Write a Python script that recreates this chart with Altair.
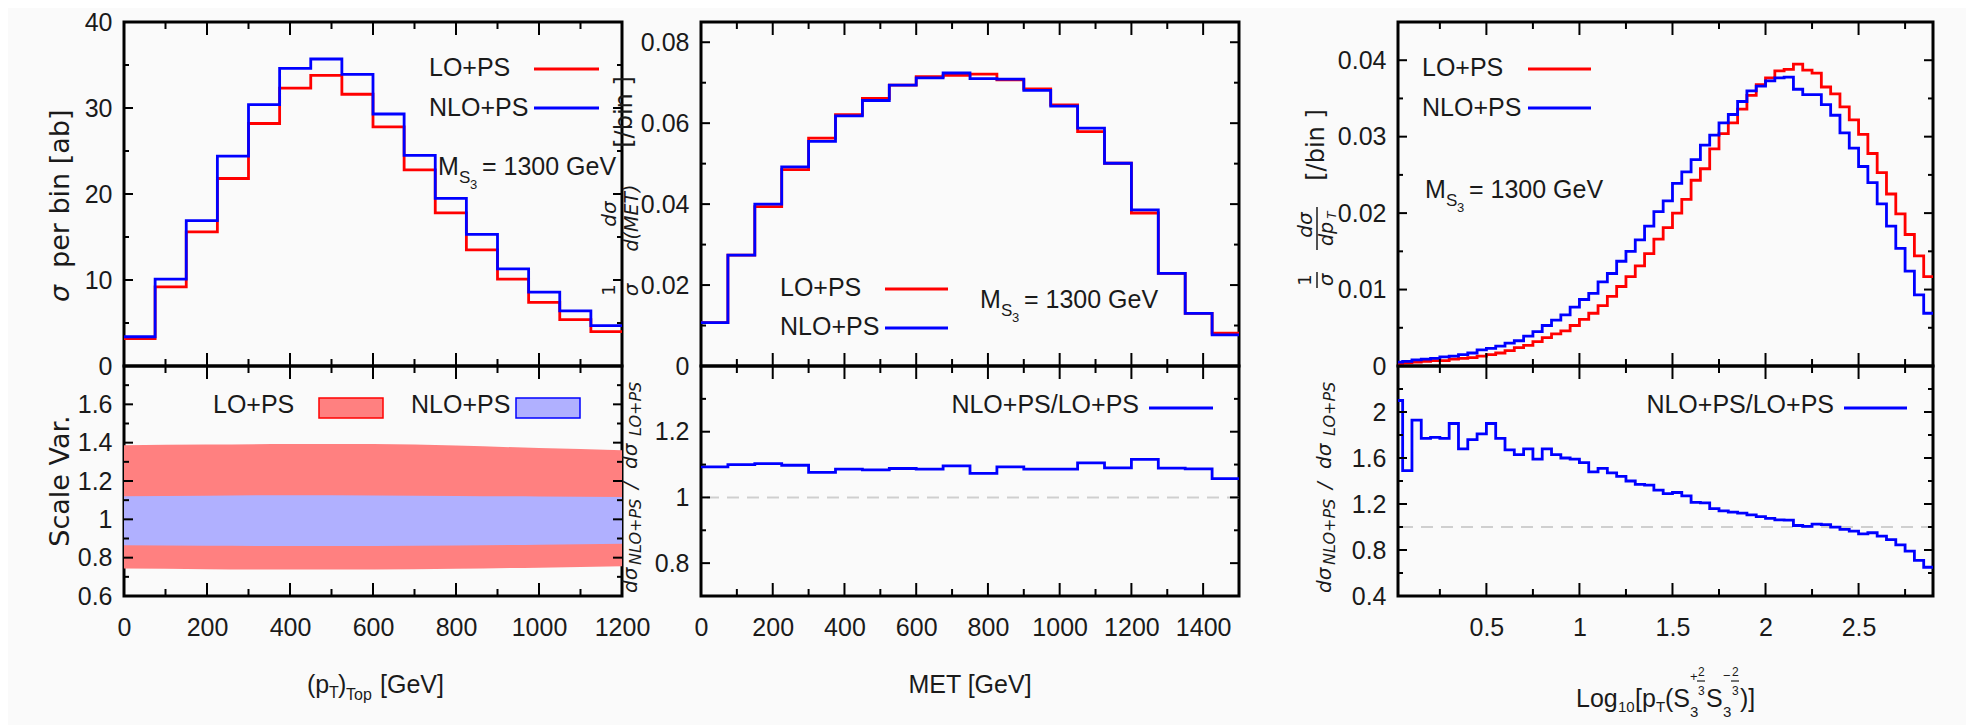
import altair as alt
import pandas as pd

RED = "#ff0000"
BLUE = "#0000ff"
RED_BAND = "#ff8080"
BLUE_BAND = "#b0b0ff"
TXT = "#1a1a1a"
LIB = "Liberation Sans, Arial, sans-serif"
SANS = "DejaVu Sans, sans-serif"
FS = 25

# ---------------- data ----------------
pt_edges = [0, 75, 150, 225, 300, 375, 450, 525, 600, 675, 750, 825, 900, 975, 1050, 1125, 1200]
pt_lo = [3.2, 9.2, 15.6, 21.8, 28.2, 32.3, 33.8, 31.6, 27.8, 22.8, 17.8, 13.5, 10.1, 7.4, 5.4, 4.0]
pt_nlo = [3.4, 10.1, 16.9, 24.4, 30.4, 34.6, 35.7, 33.9, 29.3, 24.5, 19.5, 15.3, 11.3, 8.6, 6.4, 4.7]

band_x = [0, 200, 400, 600, 800, 1000, 1200]
lo_up = [1.386, 1.390, 1.393, 1.393, 1.385, 1.372, 1.361]
lo_dn = [0.743, 0.740, 0.738, 0.738, 0.742, 0.748, 0.755]
nlo_up = [1.121, 1.123, 1.126, 1.125, 1.122, 1.119, 1.117]
nlo_dn = [0.865, 0.862, 0.861, 0.861, 0.864, 0.868, 0.872]

met_edges = [0, 75, 150, 225, 300, 375, 450, 525, 600, 675, 750, 825, 900, 975,
             1050, 1125, 1200, 1275, 1350, 1425, 1500]
met_lo = [0.0107, 0.0274, 0.0394, 0.0485, 0.0563, 0.0621, 0.0661, 0.0694, 0.0715, 0.0718,
          0.0721, 0.0707, 0.0685, 0.0645, 0.0579, 0.0501, 0.0378, 0.0229, 0.0130, 0.0081]
met_nlo = [0.0107, 0.0274, 0.0400, 0.0492, 0.0555, 0.0618, 0.0656, 0.0694, 0.0712, 0.0724,
           0.0710, 0.0709, 0.0681, 0.0642, 0.0588, 0.0501, 0.0386, 0.0229, 0.0130, 0.0077]
met_ratio = [1.093, 1.100, 1.103, 1.098, 1.076, 1.086, 1.084, 1.088, 1.086, 1.096,
             1.073, 1.093, 1.086, 1.086, 1.105, 1.090, 1.116, 1.089, 1.087, 1.057]

log_edges = [0.0, 0.05, 0.1, 0.15, 0.2, 0.25, 0.3, 0.35, 0.4, 0.45, 0.5, 0.55, 0.6, 0.65,
             0.7, 0.75, 0.8, 0.85, 0.9, 0.95, 1.0, 1.05, 1.1, 1.15, 1.2, 1.25, 1.3, 1.35,
             1.4, 1.45, 1.5, 1.55, 1.6, 1.65, 1.7, 1.75, 1.8, 1.85, 1.9, 1.95, 2.0, 2.05,
             2.1, 2.15, 2.2, 2.25, 2.3, 2.35, 2.4, 2.45, 2.5, 2.55, 2.6, 2.65, 2.7, 2.75,
             2.8, 2.85, 2.9]
log_lo = [0.0003, 0.0004, 0.0005, 0.0006, 0.0007, 0.0007, 0.0009, 0.0010, 0.0011, 0.0013,
          0.0015, 0.0017, 0.0020, 0.0024, 0.0027, 0.0032, 0.0037, 0.0042, 0.0046, 0.0053,
          0.0061, 0.0069, 0.0079, 0.0091, 0.0104, 0.0117, 0.0131, 0.0147, 0.0166, 0.0181,
          0.0200, 0.0218, 0.0243, 0.0258, 0.0284, 0.0304, 0.0318, 0.0336, 0.0354, 0.0368,
          0.0377, 0.0386, 0.0388, 0.0395, 0.0387, 0.0383, 0.0365, 0.0356, 0.0339, 0.0322,
          0.0303, 0.0278, 0.0253, 0.0225, 0.0199, 0.0172, 0.0144, 0.0117]
log_nlo = [0.0005, 0.0006, 0.0008, 0.0009, 0.0010, 0.0012, 0.0013, 0.0015, 0.0017, 0.0021,
           0.0023, 0.0026, 0.0030, 0.0033, 0.0039, 0.0045, 0.0053, 0.0060, 0.0067, 0.0077,
           0.0087, 0.0095, 0.0110, 0.0121, 0.0137, 0.0150, 0.0165, 0.0183, 0.0202, 0.0216,
           0.0239, 0.0254, 0.0270, 0.0289, 0.0302, 0.0318, 0.0329, 0.0346, 0.0360, 0.0366,
           0.0373, 0.0377, 0.0378, 0.0362, 0.0355, 0.0355, 0.0342, 0.0328, 0.0305, 0.0285,
           0.0261, 0.0240, 0.0212, 0.0183, 0.0154, 0.0124, 0.0093, 0.0069]
log_ratio = [2.10, 1.49, 1.93, 1.77, 1.78, 1.77, 1.90, 1.68, 1.76, 1.81,
             1.90, 1.77, 1.67, 1.63, 1.68, 1.59, 1.68, 1.63, 1.60, 1.59,
             1.56, 1.48, 1.51, 1.47, 1.44, 1.40, 1.37, 1.365, 1.32, 1.29,
             1.30, 1.27, 1.215, 1.21, 1.16, 1.14, 1.13, 1.12, 1.105, 1.09,
             1.075, 1.062, 1.06, 1.013, 1.005, 1.025, 1.02, 0.999, 0.98, 0.965,
             0.94, 0.95, 0.92, 0.89, 0.845, 0.79, 0.71, 0.65]

# axis values / ticks
p1_xlab = [0, 200, 400, 600, 800, 1000, 1200]
p1_xmin = [100, 300, 500, 700, 900, 1100]
p1_ylab_top = [0, 10, 20, 30, 40]
p1_ymin_top = [5, 15, 25, 35]
p1_ylab_bot = [0.6, 0.8, 1, 1.2, 1.4, 1.6]
p1_ymin_bot = [0.7, 0.9, 1.1, 1.3, 1.5, 1.7]
p2_xlab = [0, 200, 400, 600, 800, 1000, 1200, 1400]
p2_xmin = [100, 300, 500, 700, 900, 1100, 1300, 1500]
p2_ylab_top = [0, 0.02, 0.04, 0.06, 0.08]
p2_ymin_top = [0.01, 0.03, 0.05, 0.07]
p2_ylab_bot = [0.8, 1, 1.2]
p2_ymin_bot = [0.9, 1.1, 1.3]
p3_xlab = [0.5, 1, 1.5, 2, 2.5]
p3_xmin = [0.25, 0.75, 1.25, 1.75, 2.25, 2.75]
p3_ylab_top = [0, 0.01, 0.02, 0.03, 0.04]
p3_ymin_top = [0.005, 0.015, 0.025, 0.035]
p3_ylab_bot = [0.4, 0.8, 1.2, 1.6, 2]
p3_ymin_bot = [0.6, 1.0, 1.4, 1.8, 2.2]

W1, W2, W3 = 498, 538, 535
HT, HB = 344, 230

ONE = pd.DataFrame({"k": [0]})


def step_df(edges, vals):
    n = len(vals)
    return pd.DataFrame({"x": list(edges[:n]) + [edges[n]], "y": list(vals) + [vals[-1]]})


def xaxis(values=None):
    if values is None:
        return alt.Axis(labels=False, ticks=False, domain=False, grid=False, title=None)
    return alt.Axis(values=values, format=".6~g", ticks=False, domain=False, grid=False,
                    title=None, labelPadding=19, labelFont=LIB, labelFontSize=FS,
                    labelColor=TXT, labelFlush=False, labelOverlap=False)


def yaxis(values):
    return alt.Axis(values=values, format=".6~g", ticks=False, domain=False, grid=False,
                    title=None, labelPadding=12, labelFont=LIB, labelFontSize=FS,
                    labelColor=TXT, labelFlush=False, labelOverlap=False)


def step_line(edges, vals, color, xs, ys, xa, ya):
    return alt.Chart(step_df(edges, vals)).mark_line(
        interpolate="step-after", color=color, strokeWidth=2.8, clip=True
    ).encode(
        x=alt.X("x:Q", scale=xs, axis=xa),
        y=alt.Y("y:Q", scale=ys, axis=ya),
    )


def ticks(xs, ys, xa, ya, W, H, xmaj, xmin, ymaj, ymin):
    out = []
    for vals, L in ((xmaj, 13), (xmin, 7)):
        d = pd.DataFrame({"x": vals})
        base = alt.Chart(d).mark_rule(color="black", strokeWidth=2)
        out.append(base.encode(x=alt.X("x:Q", scale=xs, axis=xa), y=alt.value(H), y2=alt.value(H - L)))
        out.append(base.encode(x=alt.X("x:Q", scale=xs, axis=xa), y=alt.value(0), y2=alt.value(L)))
    for vals, L in ((ymaj, 9), (ymin, 5)):
        d = pd.DataFrame({"y": vals})
        base = alt.Chart(d).mark_rule(color="black", strokeWidth=2)
        out.append(base.encode(y=alt.Y("y:Q", scale=ys, axis=ya), x=alt.value(0), x2=alt.value(L)))
        out.append(base.encode(y=alt.Y("y:Q", scale=ys, axis=ya), x=alt.value(W), x2=alt.value(W - L)))
    return out


def t(s, x, y, size=FS, font=LIB, style="normal", align="left", baseline="middle", angle=0, color=TXT):
    kw = dict(align=align, baseline=baseline, font=font, fontSize=size, fontStyle=style, color=color, text=s)
    if angle:
        kw["angle"] = angle
    return alt.Chart(ONE).mark_text(**kw).encode(x=alt.value(x), y=alt.value(y))


def hseg(x1, x2, y, color, w=3):
    return alt.Chart(ONE).mark_rule(color=color, strokeWidth=w).encode(
        x=alt.value(x1), x2=alt.value(x2), y=alt.value(y))


def vseg(x, y1, y2, color=TXT, w=1.5):
    return alt.Chart(ONE).mark_rule(color=color, strokeWidth=w).encode(
        x=alt.value(x), y=alt.value(y1), y2=alt.value(y2))


def box(x1, x2, y1, y2, fill, stroke):
    return alt.Chart(ONE).mark_rect(fill=fill, stroke=stroke, strokeWidth=1.5).encode(
        x=alt.value(x1), x2=alt.value(x2), y=alt.value(y1), y2=alt.value(y2))


def mass_label(x, y):
    return [
        t("M", x, y),
        t("S", x + 21, y + 11, size=17),
        t("3", x + 32, y + 18, size=13),
        t("= 1300 GeV", x + 44, y),
    ]


def ratio_title(xb):
    kw = dict(font=SANS, style="italic", baseline="alphabetic", angle=270)
    return [
        t("dσ", xb, 227, size=20, **kw),
        t("NLO+PS", xb + 4, 199, size=16, **kw),
        t("/", xb, 123, size=20, **kw),
        t("dσ", xb, 103, size=20, **kw),
        t("LO+PS", xb + 4, 70, size=16, **kw),
    ]


def dashed_one(ys, ya):
    return alt.Chart(pd.DataFrame({"y": [1.0]})).mark_rule(
        color="#cfcfcf", strokeWidth=2, strokeDash=[12, 8]
    ).encode(y=alt.Y("y:Q", scale=ys, axis=ya))


# ---------------- panel 1 ----------------
xs1 = alt.Scale(domain=[0, 1200], nice=False, zero=False)
ys1t = alt.Scale(domain=[0, 40], nice=False, zero=False)
ys1b = alt.Scale(domain=[0.6, 1.8], nice=False, zero=False)
xa1t, ya1t = xaxis(), yaxis(p1_ylab_top)
xa1b, ya1b = xaxis(p1_xlab), yaxis(p1_ylab_bot)

p1_top = alt.layer(
    step_line(pt_edges, pt_lo, RED, xs1, ys1t, xa1t, ya1t),
    step_line(pt_edges, pt_nlo, BLUE, xs1, ys1t, xa1t, ya1t),
    *ticks(xs1, ys1t, xa1t, ya1t, W1, HT, p1_xlab, p1_xmin, p1_ylab_top, p1_ymin_top),
    t("LO+PS", 305, 46), t("NLO+PS", 305, 86),
    hseg(410, 475, 47, RED), hseg(410, 475, 86, BLUE),
    *mass_label(314, 145),
    t("σ", -63, 280, size=27, font=SANS, style="italic", angle=270),
    t("per  bin  [ab]", -63, 246, size=27, font=SANS, angle=270),
).properties(width=W1, height=HT)

band_df = pd.DataFrame({"x": band_x, "lo_up": lo_up, "lo_dn": lo_dn, "nlo_up": nlo_up, "nlo_dn": nlo_dn})
p1_bot = alt.layer(
    alt.Chart(band_df).mark_area(color=RED_BAND, interpolate="monotone").encode(
        x=alt.X("x:Q", scale=xs1, axis=xa1b),
        y=alt.Y("lo_dn:Q", scale=ys1b, axis=ya1b),
        y2="lo_up:Q"),
    alt.Chart(band_df).mark_area(color=BLUE_BAND, interpolate="monotone").encode(
        x=alt.X("x:Q", scale=xs1, axis=xa1b),
        y=alt.Y("nlo_dn:Q", scale=ys1b, axis=ya1b),
        y2="nlo_up:Q"),
    *ticks(xs1, ys1b, xa1b, ya1b, W1, HB, p1_xlab, p1_xmin, p1_ylab_bot, p1_ymin_bot),
    t("LO+PS", 89, 39), box(195, 259, 32, 52, RED_BAND, RED),
    t("NLO+PS", 287, 39), box(392, 456, 32, 52, BLUE_BAND, BLUE),
    t("Scale  Var.", -63, 115, size=27, font=SANS, align="center", angle=270),
    t("(p", 183, 319), t("T", 205, 327, size=16), t(")", 214, 319),
    t("Top", 222, 329, size=16), t("[GeV]", 256, 319),
).properties(width=W1, height=HB)

# ---------------- panel 2 ----------------
xs2 = alt.Scale(domain=[0, 1500], nice=False, zero=False)
ys2t = alt.Scale(domain=[0, 0.085], nice=False, zero=False)
ys2b = alt.Scale(domain=[0.7, 1.4], nice=False, zero=False)
xa2t, ya2t = xaxis(), yaxis(p2_ylab_top)
xa2b, ya2b = xaxis(p2_xlab), yaxis(p2_ylab_bot)

p2_top = alt.layer(
    step_line(met_edges, met_lo, RED, xs2, ys2t, xa2t, ya2t),
    step_line(met_edges, met_nlo, BLUE, xs2, ys2t, xa2t, ya2t),
    *ticks(xs2, ys2t, xa2t, ya2t, W2, HT, p2_xlab, p2_xmin, p2_ylab_top, p2_ymin_top),
    t("LO+PS", 79, 266), t("NLO+PS", 79, 305),
    hseg(184, 247, 267, RED), hseg(184, 247, 306, BLUE),
    *mass_label(279, 278),
    t("[/bin ]", -76, 90, size=24, font=SANS, align="center", angle=270),
    t("dσ", -91, 192, size=20, font=SANS, style="italic", align="center", angle=270),
    t("d(MET)", -69, 196, size=19, font=SANS, style="italic", align="center", angle=270),
    t("1", -91, 268, size=18, font=SANS, align="center", angle=270),
    t("σ", -69, 268, size=20, font=SANS, style="italic", align="center", angle=270),
).properties(width=W2, height=HT)

p2_bot = alt.layer(
    dashed_one(ys2b, ya2b),
    step_line(met_edges, met_ratio, BLUE, xs2, ys2b, xa2b, ya2b),
    *ticks(xs2, ys2b, xa2b, ya2b, W2, HB, p2_xlab, p2_xmin, p2_ylab_bot, p2_ymin_bot),
    t("NLO+PS/LO+PS", 438, 39, align="right"), hseg(448, 512, 42, BLUE),
    *ratio_title(-64),
    t("MET [GeV]", 269, 319, align="center"),
).properties(width=W2, height=HB)

# ---------------- panel 3 ----------------
xs3 = alt.Scale(domain=[0.025, 2.9], nice=False, zero=False)
ys3t = alt.Scale(domain=[0, 0.045], nice=False, zero=False)
ys3b = alt.Scale(domain=[0.4, 2.4], nice=False, zero=False)
xa3t, ya3t = xaxis(), yaxis(p3_ylab_top)
xa3b, ya3b = xaxis(p3_xlab), yaxis(p3_ylab_bot)

p3_top = alt.layer(
    step_line(log_edges, log_lo, RED, xs3, ys3t, xa3t, ya3t),
    step_line(log_edges, log_nlo, BLUE, xs3, ys3t, xa3t, ya3t),
    *ticks(xs3, ys3t, xa3t, ya3t, W3, HT, p3_xlab, p3_xmin, p3_ylab_top, p3_ymin_top),
    t("LO+PS", 24, 46), t("NLO+PS", 24, 86),
    hseg(130, 193, 47, RED), hseg(130, 193, 86, BLUE),
    *mass_label(27, 168),
    t("[/bin ]", -81, 123, size=24, font=SANS, align="center", angle=270),
    t("dσ", -92, 203, size=20, font=SANS, style="italic", align="center", angle=270),
    t("dp", -71, 212, size=19, font=SANS, style="italic", align="center", angle=270),
    t("T", -66, 193, size=12, font=SANS, style="italic", align="center", angle=270),
    vseg(-81, 185, 228),
    t("1", -92, 258, size=18, font=SANS, align="center", angle=270),
    t("σ", -71, 258, size=20, font=SANS, style="italic", align="center", angle=270),
    vseg(-81, 250, 266),
).properties(width=W3, height=HT)

p3_bot = alt.layer(
    dashed_one(ys3b, ya3b),
    step_line(log_edges, log_ratio, BLUE, xs3, ys3b, xa3b, ya3b),
    *ticks(xs3, ys3b, xa3b, ya3b, W3, HB, p3_xlab, p3_xmin, p3_ylab_bot, p3_ymin_bot),
    t("NLO+PS/LO+PS", 436, 39, align="right"), hseg(446, 509, 42, BLUE),
    *ratio_title(-67),
    t("Log", 178, 333), t("10", 220, 341, size=15),
    t("[p", 237, 333), t("T", 258, 341, size=15),
    t("(S", 267, 333), t("3", 292, 346, size=15),
    t("+", 292, 311, size=13), t("2", 300, 306, size=12), hseg(299, 307, 315, TXT, 1.2),
    t("3", 300, 325, size=12),
    t("S", 308, 333), t("3", 325, 346, size=15),
    t("−", 325, 310, size=13), t("2", 334, 306, size=12), hseg(333, 341, 315, TXT, 1.2),
    t("3", 334, 325, size=12),
    t(")]", 342, 333),
).properties(width=W3, height=HB)


def spacer(h):
    return alt.Chart(ONE).mark_text(text="").properties(
        width=1, height=h, view=alt.ViewBackground(stroke=None))


chart = alt.concat(
    p1_top, p2_top, spacer(HT), p3_top,
    p1_bot, p2_bot, spacer(HB), p3_bot,
    columns=4, bounds="flush",
    spacing=alt.RowColnumber(row=0, column=79),
).properties(
    padding={"left": 37, "top": 0, "right": 30, "bottom": 5},
    background="#fafafa",
).configure_view(
    stroke="black", strokeWidth=3
).configure_axis(
    grid=False, ticks=False, domain=False
)

chart.save("out.html", embed_options={"renderer": "svg", "actions": False})
